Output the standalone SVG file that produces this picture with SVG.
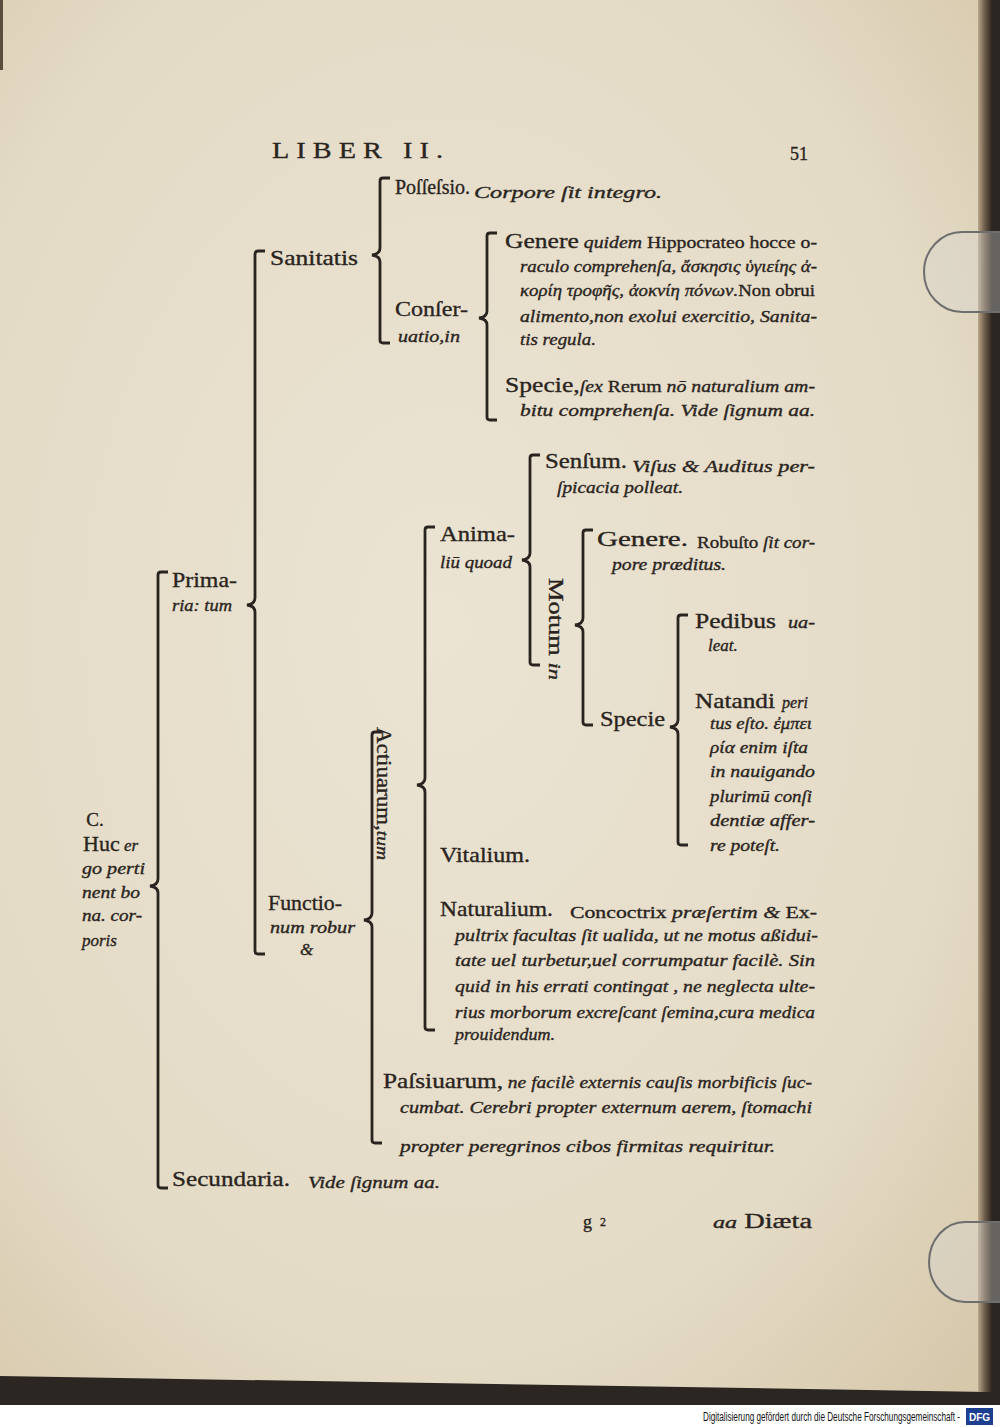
<svg xmlns="http://www.w3.org/2000/svg" width="1000" height="1427" viewBox="0 0 1000 1427">
<defs>
<radialGradient id="paper" cx="0.45" cy="0.45" r="0.75">
<stop offset="0" stop-color="#ebe4d3"/>
<stop offset="0.7" stop-color="#e4dbc6"/>
<stop offset="1" stop-color="#d6c8ab"/>
</radialGradient>
<linearGradient id="edge" x1="0" y1="0" x2="1" y2="0">
<stop offset="0" stop-color="#b9a68a"/>
<stop offset="0.5" stop-color="#6b5a48"/>
<stop offset="1" stop-color="#2e2620"/>
</linearGradient>
<style>
.t{font-family:"Liberation Serif","DejaVu Serif",serif;fill:#2a2420;stroke:#2a2420;stroke-width:0.35px;}
.h{font-size:22px;}
.m{font-size:17px;}
.i{font-size:17px;font-style:italic;}
.br{fill:none;stroke:#2a2420;stroke-width:2.8;}
.clip{fill:#d8d8d4;fill-opacity:0.35;stroke:#6e6e6e;stroke-width:2;}
</style>
</defs>
<rect x="0" y="0" width="1000" height="1427" fill="#2b2622"/>
<path d="M0,0 H988 V1392 L0,1376 Z" fill="url(#paper)"/>
<rect x="978" y="0" width="14" height="1392" fill="url(#edge)"/>
<rect x="0" y="0" width="3" height="70" fill="#5a4c3e"/>
<rect x="0" y="1405" width="1000" height="22" fill="#ffffff"/>
<path class="clip" d="M1000,232 H962 A38,40 0 0 0 962,312 H1000"/>
<path class="clip" d="M1000,1222 H965 A36,40 0 0 0 965,1302 H1000"/>

<g id="header">
<text class="t" x="272" y="158" font-size="24" letter-spacing="6" textLength="178" lengthAdjust="spacingAndGlyphs">LIBER  II.</text>
<text class="t" x="790" y="160" font-size="18">51</text>
</g>

<g id="connectors">
<path class="br" d="M168,572 L161,572 Q158,572 158,575 L158,879 Q158,885 150,886 Q158,887 158,893 L158,1185 Q158,1188 161,1188 L168,1188"/>
<path class="br" d="M265,251 L258,251 Q255,251 255,254 L255,598 Q255,604 247,605 Q255,606 255,612 L255,951 Q255,954 258,954 L265,954"/>
<path class="br" d="M390,178 L383,178 Q380,178 380,181 L380,248 Q380,254 372,255 Q380,256 380,262 L380,340 Q380,343 383,343 L390,343"/>
<path class="br" d="M497,233 L490,233 Q487,233 487,236 L487,311 Q487,317 479,318 Q487,319 487,325 L487,417 Q487,420 490,420 L497,420"/>
<path class="br" d="M435,527 L428,527 Q425,527 425,530 L425,778 Q425,784 417,785 Q425,786 425,792 L425,1027 Q425,1030 428,1030 L435,1030"/>
<path class="br" d="M540,455 L533,455 Q530,455 530,458 L530,553 Q530,559 522,560 Q530,561 530,567 L530,662 Q530,665 533,665 L540,665"/>
<path class="br" d="M593,530 L586,530 Q583,530 583,533 L583,618 Q583,624 575,625 Q583,626 583,632 L583,722 Q583,725 586,725 L593,725"/>
<path class="br" d="M688,615 L681,615 Q678,615 678,618 L678,720 Q678,726 670,727 Q678,728 678,734 L678,842 Q678,845 681,845 L688,845"/>
<path class="br" d="M382,732 L375,732 Q372,732 372,735 L372,913 Q372,919 364,920 Q372,921 372,927 L372,1140 Q372,1143 375,1143 L382,1143"/>
</g>

<g id="root">
<text class="t" x="95" y="826" font-size="19" text-anchor="middle">C.</text>
<text class="t" x="83" y="851"><tspan class="h" font-size="21">Huc</tspan><tspan class="i"> er</tspan></text>
<text class="t i" x="82" y="874" textLength="63" lengthAdjust="spacingAndGlyphs">go perti</text>
<text class="t i" x="82" y="898" textLength="58" lengthAdjust="spacingAndGlyphs">nent bo</text>
<text class="t i" x="82" y="921" textLength="60" lengthAdjust="spacingAndGlyphs">na. cor-</text>
<text class="t i" x="82" y="946">poris</text>
</g>

<g id="primaria">
<text class="t h" x="172" y="587" textLength="65" lengthAdjust="spacingAndGlyphs">Prima-</text>
<text class="t i" x="172" y="611" textLength="60" lengthAdjust="spacingAndGlyphs">ria: tum</text>
</g>

<g id="secundaria">
<text class="t h" x="172" y="1186" textLength="118" lengthAdjust="spacingAndGlyphs">Secundaria.</text>
<text class="t i" x="308" y="1188" textLength="132" lengthAdjust="spacingAndGlyphs">Vide ſignum aa.</text>
</g>

<g id="sanitatis">
<text class="t h" x="270" y="265" textLength="88" lengthAdjust="spacingAndGlyphs">Sanitatis</text>
</g>

<g id="possessio">
<text class="t h" x="395" y="194" textLength="75" lengthAdjust="spacingAndGlyphs">Poſſeſsio.</text>
<text class="t i" x="474" y="198" textLength="188" lengthAdjust="spacingAndGlyphs">Corpore ſit integro.</text>
</g>

<g id="conseruatio">
<text class="t h" x="395" y="316" textLength="73" lengthAdjust="spacingAndGlyphs">Conſer-</text>
<text class="t i" x="398" y="342" textLength="62" lengthAdjust="spacingAndGlyphs">uatio,in</text>
</g>

<g id="genere-hippo">
<text class="t" x="505" y="248" textLength="312" lengthAdjust="spacingAndGlyphs"><tspan class="h">Genere</tspan><tspan class="i"> quidem</tspan><tspan class="m"> Hippocrateo hocce o-</tspan></text>
<text class="t i" x="520" y="272" textLength="297" lengthAdjust="spacingAndGlyphs">raculo comprehenſa, ἄσκησις ὑγιείης ἀ-</text>
<text class="t" x="520" y="296" textLength="295" lengthAdjust="spacingAndGlyphs"><tspan class="i">κορίη τροφῆς, ἀοκνίη πόνων.</tspan><tspan class="m">Non obrui</tspan></text>
<text class="t i" x="520" y="322" textLength="297" lengthAdjust="spacingAndGlyphs">alimento,non exolui exercitio, Sanita-</text>
<text class="t i" x="520" y="345" textLength="76" lengthAdjust="spacingAndGlyphs">tis regula.</text>
</g>

<g id="specie-rerum">
<text class="t" x="505" y="392" textLength="310" lengthAdjust="spacingAndGlyphs"><tspan class="h">Specie,</tspan><tspan class="i">ſex </tspan><tspan class="m">Rerum </tspan><tspan class="i">nō naturalium am-</tspan></text>
<text class="t i" x="520" y="416" textLength="295" lengthAdjust="spacingAndGlyphs">bitu comprehenſa.  Vide ſignum aa.</text>
</g>

<g id="functionum">
<text class="t h" x="268" y="910" textLength="74" lengthAdjust="spacingAndGlyphs">Functio-</text>
<text class="t i" x="270" y="933" textLength="85" lengthAdjust="spacingAndGlyphs">num robur</text>
<text class="t i" x="300" y="955">&amp;</text>
</g>

<g id="actiuarum">
<text class="t" transform="translate(377,727) rotate(90)" textLength="133" lengthAdjust="spacingAndGlyphs"><tspan font-size="20">Actiuarum,</tspan><tspan class="i">tum</tspan></text>
</g>

<g id="animalium">
<text class="t h" x="440" y="541" textLength="75" lengthAdjust="spacingAndGlyphs">Anima-</text>
<text class="t i" x="440" y="568" textLength="72" lengthAdjust="spacingAndGlyphs">liū quoad</text>
</g>

<g id="sensum">
<text class="t h" x="545" y="468" textLength="82" lengthAdjust="spacingAndGlyphs">Senſum.</text>
<text class="t i" x="632" y="472" textLength="183" lengthAdjust="spacingAndGlyphs">Viſus &amp; Auditus per-</text>
<text class="t i" x="557" y="493" textLength="126" lengthAdjust="spacingAndGlyphs">ſpicacia polleat.</text>
</g>

<g id="motum">
<text class="t" transform="translate(549,578) rotate(90)" textLength="102" lengthAdjust="spacingAndGlyphs"><tspan font-size="20">Motum </tspan><tspan class="i">in</tspan></text>
</g>

<g id="genere-robusto">
<text class="t h" x="597" y="546" textLength="91" lengthAdjust="spacingAndGlyphs">Genere.</text>
<text class="t m" x="697" y="548" textLength="118" lengthAdjust="spacingAndGlyphs">Robuſto <tspan font-style="italic">ſit cor-</tspan></text>
<text class="t i" x="612" y="570" textLength="114" lengthAdjust="spacingAndGlyphs">pore præditus.</text>
</g>

<g id="specie-motum">
<text class="t h" x="600" y="726" textLength="65" lengthAdjust="spacingAndGlyphs">Specie</text>
</g>

<g id="pedibus">
<text class="t h" x="695" y="628" textLength="81" lengthAdjust="spacingAndGlyphs">Pedibus</text>
<text class="t i" x="788" y="628" textLength="27" lengthAdjust="spacingAndGlyphs">ua-</text>
<text class="t i" x="708" y="651">leat.</text>
</g>

<g id="natandi">
<text class="t h" x="695" y="708" textLength="80" lengthAdjust="spacingAndGlyphs">Natandi</text>
<text class="t i" x="782" y="708" textLength="26" lengthAdjust="spacingAndGlyphs">peri</text>
<text class="t i" x="710" y="729" textLength="102" lengthAdjust="spacingAndGlyphs">tus eſto. ἐμπει</text>
<text class="t i" x="710" y="753" textLength="98" lengthAdjust="spacingAndGlyphs">ρία enim iſta</text>
<text class="t i" x="710" y="777" textLength="105" lengthAdjust="spacingAndGlyphs">in nauigando</text>
<text class="t i" x="710" y="802" textLength="102" lengthAdjust="spacingAndGlyphs">plurimū conſi</text>
<text class="t i" x="710" y="826" textLength="105" lengthAdjust="spacingAndGlyphs">dentiæ  affer-</text>
<text class="t i" x="710" y="851" textLength="70" lengthAdjust="spacingAndGlyphs">re poteſt.</text>
</g>

<g id="vitalium">
<text class="t h" x="440" y="862" textLength="90" lengthAdjust="spacingAndGlyphs">Vitalium.</text>
</g>

<g id="naturalium">
<text class="t h" x="440" y="916" textLength="113" lengthAdjust="spacingAndGlyphs">Naturalium.</text>
<text class="t" x="570" y="918" textLength="247" lengthAdjust="spacingAndGlyphs"><tspan class="m">Concoctrix </tspan><tspan class="i">præſertim &amp; </tspan><tspan class="m">Ex-</tspan></text>
<text class="t i" x="455" y="941" textLength="363" lengthAdjust="spacingAndGlyphs">pultrix facultas ſit ualida, ut ne motus aßidui-</text>
<text class="t i" x="455" y="966" textLength="360" lengthAdjust="spacingAndGlyphs">tate uel turbetur,uel corrumpatur facilè. Sin</text>
<text class="t i" x="455" y="992" textLength="360" lengthAdjust="spacingAndGlyphs">quid in his errati contingat , ne neglecta ulte-</text>
<text class="t i" x="455" y="1018" textLength="360" lengthAdjust="spacingAndGlyphs">rius morborum excreſcant ſemina,cura medica</text>
<text class="t i" x="455" y="1040" textLength="100" lengthAdjust="spacingAndGlyphs">prouidendum.</text>
</g>

<g id="passiuarum">
<text class="t" x="383" y="1088" textLength="429" lengthAdjust="spacingAndGlyphs"><tspan class="h">Paſsiuarum,</tspan><tspan class="i"> ne facilè externis cauſis morbificis ſuc-</tspan></text>
<text class="t i" x="400" y="1113" textLength="412" lengthAdjust="spacingAndGlyphs">cumbat. Cerebri propter externum aerem, ſtomachi</text>
<text class="t i" x="400" y="1152" textLength="375" lengthAdjust="spacingAndGlyphs">propter peregrinos cibos firmitas requiritur.</text>
</g>

<g id="footer">
<text class="t" x="583" y="1228" font-size="18">g</text>
<text class="t" x="600" y="1226" font-size="12">2</text>
<text class="t" x="713" y="1228" textLength="99" lengthAdjust="spacingAndGlyphs"><tspan class="i" font-size="15">aa</tspan><tspan font-size="20"> Diæta</tspan></text>
</g>

<g id="credit">
<text transform="translate(703,1421) scale(0.68,1)" x="0" y="0" font-family="Liberation Sans,sans-serif" font-size="12" fill="#111" textLength="378" lengthAdjust="spacingAndGlyphs">Digitalisierung gefördert durch die Deutsche Forschungsgemeinschaft -</text>
<rect x="966" y="1408" width="27" height="17" fill="#1d3f8f"/>
<text x="979.5" y="1421" font-family="Liberation Sans,sans-serif" font-size="10" font-weight="bold" fill="#ffffff" text-anchor="middle">DFG</text>
</g>
</svg>
